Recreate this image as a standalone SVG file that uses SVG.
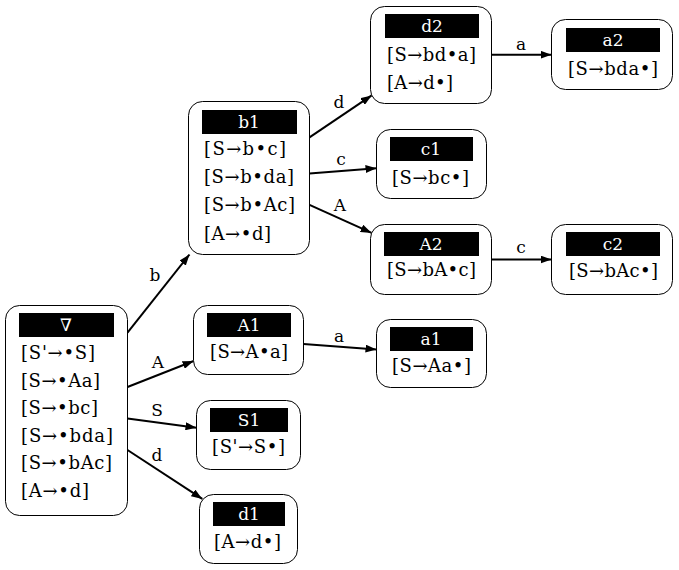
<svg xmlns="http://www.w3.org/2000/svg" width="679" height="570" viewBox="0 0 679 570">
<defs>
<marker id="ah" viewBox="0 0 11 8" refX="11" refY="4" markerWidth="11" markerHeight="8" markerUnits="userSpaceOnUse" orient="auto">
<path d="M0,0 L11,4 L0,8 Z" fill="#000"/>
</marker>
<style>
.box{fill:#fff;stroke:#000;stroke-width:1}
.hdr{fill:#000}
text{font-family:"DejaVu Serif","Liberation Serif",serif;font-size:18px}
.ht{fill:#fff;text-anchor:middle;font-size:17px}
.it{fill:#000}
.lbl{fill:#000;text-anchor:middle;font-size:17px}
.e{stroke:#000;stroke-width:2;fill:none;marker-end:url(#ah)}
</style>
</defs>
<rect width="679" height="570" fill="#fff"/>
<g id="connectors">
<line class="e" x1="127.5" y1="332.6" x2="189.5" y2="254.5"/>
<text class="lbl" x="155" y="281">b</text>
<line class="e" x1="127.5" y1="387" x2="193.6" y2="361"/>
<text class="lbl" x="158" y="368">A</text>
<line class="e" x1="127.5" y1="418.4" x2="196.5" y2="427.8"/>
<text class="lbl" x="157" y="416">S</text>
<line class="e" x1="127.5" y1="450" x2="202.3" y2="498.9"/>
<text class="lbl" x="157" y="461">d</text>
<line class="e" x1="309.5" y1="137.4" x2="371.7" y2="95.4"/>
<text class="lbl" x="339" y="108">d</text>
<line class="e" x1="309.5" y1="173.4" x2="376.5" y2="168.2"/>
<text class="lbl" x="341" y="165">c</text>
<line class="e" x1="309.5" y1="204.9" x2="371.6" y2="232.9"/>
<text class="lbl" x="340" y="211">A</text>
<line class="e" x1="491.5" y1="54.7" x2="551.5" y2="54.7"/>
<text class="lbl" x="521" y="50">a</text>
<line class="e" x1="491.5" y1="259.5" x2="551.5" y2="259.5"/>
<text class="lbl" x="521" y="253">c</text>
<line class="e" x1="303.5" y1="344.1" x2="376.5" y2="349.4"/>
<text class="lbl" x="339" y="342">a</text>
</g>
<g id="n-nabla">
<rect class="box" x="5.5" y="305.5" width="122" height="210" rx="14"/>
<rect class="hdr" x="19" y="313" width="95" height="24"/>
<text class="ht" x="66" y="331">∇</text>
<text class="it" x="21" y="359" textLength="74">[S'→•S]</text>
<text class="it" x="21" y="387" textLength="79">[S→•Aa]</text>
<text class="it" x="21" y="414" textLength="77">[S→•bc]</text>
<text class="it" x="21" y="442" textLength="92">[S→•bda]</text>
<text class="it" x="21" y="469" textLength="91">[S→•bAc]</text>
<text class="it" x="21" y="497" textLength="68">[A→•d]</text>
</g>
<g id="n-b1">
<rect class="box" x="188.5" y="101.5" width="121" height="153" rx="14"/>
<rect class="hdr" x="202" y="110" width="95" height="24"/>
<text class="ht" x="249" y="128">b1</text>
<text class="it" x="204" y="155" textLength="82">[S→b•c]</text>
<text class="it" x="204" y="183" textLength="90">[S→b•da]</text>
<text class="it" x="204" y="211" textLength="91">[S→b•Ac]</text>
<text class="it" x="204" y="240" textLength="67">[A→•d]</text>
</g>
<g id="n-d2">
<rect class="box" x="370.5" y="6.5" width="121" height="97" rx="14"/>
<rect class="hdr" x="385" y="14" width="94" height="24"/>
<text class="ht" x="432" y="32">d2</text>
<text class="it" x="387" y="61" textLength="89">[S→bd•a]</text>
<text class="it" x="387" y="89" textLength="66">[A→d•]</text>
</g>
<g id="n-a2">
<rect class="box" x="551.5" y="19.5" width="121" height="70" rx="14"/>
<rect class="hdr" x="566" y="28" width="94" height="24"/>
<text class="ht" x="613" y="46">a2</text>
<text class="it" x="568" y="75" textLength="90">[S→bda•]</text>
</g>
<g id="n-c1">
<rect class="box" x="376.5" y="129.5" width="110" height="69" rx="14"/>
<rect class="hdr" x="390" y="137" width="83" height="24"/>
<text class="ht" x="431" y="155">c1</text>
<text class="it" x="392" y="184" textLength="77">[S→bc•]</text>
</g>
<g id="n-A2">
<rect class="box" x="370.5" y="224.5" width="121" height="70" rx="14"/>
<rect class="hdr" x="384" y="232" width="95" height="24"/>
<text class="ht" x="431" y="250">A2</text>
<text class="it" x="387" y="276" textLength="89">[S→bA•c]</text>
</g>
<g id="n-c2">
<rect class="box" x="551.5" y="224.5" width="121" height="70" rx="14"/>
<rect class="hdr" x="566" y="232" width="94" height="24"/>
<text class="ht" x="613" y="250">c2</text>
<text class="it" x="569" y="277" textLength="89">[S→bAc•]</text>
</g>
<g id="n-A1">
<rect class="box" x="193.5" y="305.5" width="110" height="69" rx="14"/>
<rect class="hdr" x="207" y="313" width="84" height="24"/>
<text class="ht" x="249" y="331">A1</text>
<text class="it" x="210" y="358" textLength="78">[S→A•a]</text>
</g>
<g id="n-a1">
<rect class="box" x="376.5" y="319.5" width="110" height="68" rx="14"/>
<rect class="hdr" x="390" y="327" width="83" height="24"/>
<text class="ht" x="431" y="345">a1</text>
<text class="it" x="392" y="372" textLength="79">[S→Aa•]</text>
</g>
<g id="n-S1">
<rect class="box" x="196.5" y="400.5" width="104" height="69" rx="14"/>
<rect class="hdr" x="210" y="408" width="78" height="24"/>
<text class="ht" x="249" y="426">S1</text>
<text class="it" x="212" y="453" textLength="73">[S'→S•]</text>
</g>
<g id="n-d1">
<rect class="box" x="199.5" y="494.5" width="98" height="69" rx="14"/>
<rect class="hdr" x="213" y="502" width="72" height="24"/>
<text class="ht" x="249" y="520">d1</text>
<text class="it" x="214" y="548" textLength="67">[A→d•]</text>
</g>
</svg>
